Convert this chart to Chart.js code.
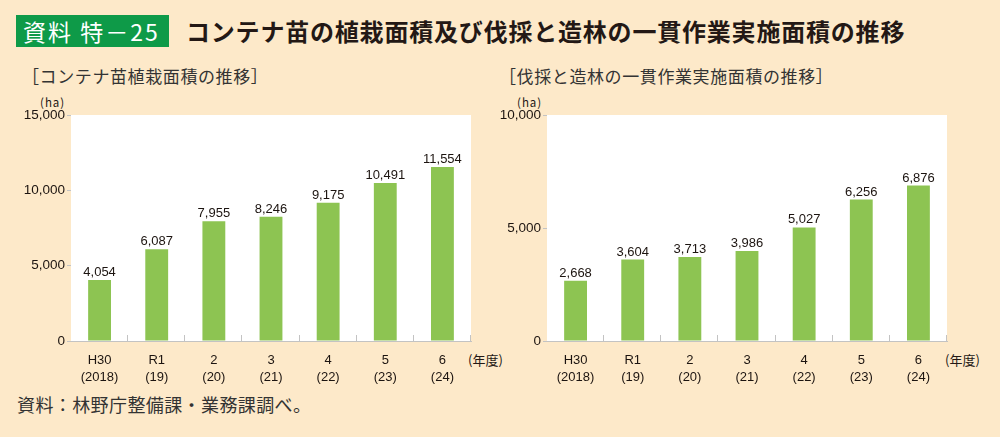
<!DOCTYPE html>
<html>
<head>
<meta charset="utf-8">
<script src="https://cdn.jsdelivr.net/npm/chart.js@4"></script>
<style>
  html, body { margin: 0; padding: 0; }
  body { width: 1000px; height: 437px; background: #fde9c9; position: relative; overflow: hidden;
         font-family: "Noto Sans CJK JP", sans-serif; color: #231815; }
  .abs { position: absolute; white-space: nowrap; }
  #badge { left: 16px; top: 15px; width: 153px; height: 32px; background: #0e9a48; color: #fff;
           font-size: 23px; line-height: 32px; text-indent: 7px; letter-spacing: 2px; }
  #title { left: 186px; top: 14px; font-size: 24px; font-weight: bold; line-height: 34px; letter-spacing: 0.8px; }
  .sub { top: 63px; font-size: 17px; line-height: 26px; color: #333; letter-spacing: 0.6px; }
  .unit { top: 94px; font-size: 11.5px; line-height: 16px; letter-spacing: 1px; }
  .year { top: 351px; font-size: 13px; line-height: 18px; }
  #source { left: 17px; top: 392px; font-size: 18px; line-height: 24px; color: #333; letter-spacing: 0.4px; }
  canvas { position: absolute; top: 100px; }
</style>
</head>
<body>
<div class="abs" id="badge">資料 特－25</div>
<div class="abs" id="title">コンテナ苗の植栽面積及び伐採と造林の一貫作業実施面積の推移</div>
<div class="abs sub" style="left:22px">［コンテナ苗植栽面積の推移］</div>
<div class="abs sub" style="left:499px">［伐採と造林の一貫作業実施面積の推移］</div>
<div class="abs unit" style="left:40px">(ha)</div>
<div class="abs unit" style="left:517px">(ha)</div>
<div class="abs year" style="left:468px">(年度)</div>
<div class="abs year" style="left:945px">(年度)</div>
<div class="abs" id="source">資料：林野庁整備課・業務課調べ。</div>

<canvas id="ContainerChart" width="500" height="290" style="left:0px"></canvas>
<canvas id="IntegratedChart" width="500" height="290" style="left:476px"></canvas>

<script>
//////// data ////////
const categories = [["H30", "(2018)"], ["R1", "(19)"], ["2", "(20)"], ["3", "(21)"], ["4", "(22)"], ["5", "(23)"], ["6", "(24)"]]
const containerArea = [4054, 6087, 7955, 8246, 9175, 10491, 11554]
const integratedArea = [2668, 3604, 3713, 3986, 5027, 6256, 6876]
const containerMax = 15000
const integratedMax = 10000
const tickStep = 5000

const BAR_GREEN = "#8dc452"
const AXIS_GRAY = "#c3c3c3"
const TEXT_DARK = "#1c1410"
const NUM_FONT = "'Liberation Sans', sans-serif"

let fmt = v => Number(v).toLocaleString("en-US")

//////// plugin: white plot area, value labels, inward category ticks ////////
const decorate = {
    id: "decorate",
    beforeDatasetsDraw(chart) {
        const a = chart.chartArea
        const ctx = chart.ctx
        ctx.save()
        ctx.fillStyle = "#ffffff"
        ctx.fillRect(a.left, a.top, a.right - a.left, a.bottom - a.top)
        ctx.restore()
    },
    afterDatasetsDraw(chart) {
        const ctx = chart.ctx
        const meta = chart.getDatasetMeta(0)
        const values = chart.data.datasets[0].data
        ctx.save()
        ctx.font = "13px " + NUM_FONT
        ctx.fillStyle = TEXT_DARK
        ctx.textAlign = "center"
        ctx.textBaseline = "alphabetic"
        meta.data.forEach((bar, i) => {
            ctx.fillText(fmt(values[i]), bar.x, bar.y - 4)
        })
        // small ticks between categories, pointing up from the axis
        const xs = chart.scales.x
        const n = values.length
        const step = (xs.right - xs.left) / n
        ctx.strokeStyle = AXIS_GRAY
        ctx.lineWidth = 1
        ctx.beginPath()
        for (let i = 1; i <= n; i++) {
            const x = Math.round(xs.left + i * step) - 0.5
            ctx.moveTo(x, chart.chartArea.bottom)
            ctx.lineTo(x, chart.chartArea.bottom - 6)
        }
        ctx.stroke()
        ctx.restore()
    }
}

let makeChart = (canvasId, values, maxValue) => {
    let ctx = document.getElementById(canvasId).getContext("2d")
    return new Chart(ctx, {
        type: "bar",
        data: {
            labels: categories,
            datasets: [{
                data: values,
                backgroundColor: BAR_GREEN,
                borderWidth: 0,
                barPercentage: 0.4,
                categoryPercentage: 1
            }]
        },
        options: {
            responsive: false,
            animation: false,
            layout: { padding: { top: 15, right: 29, left: 0, bottom: 0 } },
            plugins: { legend: { display: false }, tooltip: { enabled: false } },
            scales: {
                x: {
                    grid: { display: false },
                    border: { color: AXIS_GRAY, width: 1 },
                    ticks: {
                        color: TEXT_DARK,
                        padding: 3,
                        maxRotation: 0,
                        autoSkip: false,
                        font: { family: NUM_FONT, size: 13, lineHeight: 1.3 }
                    },
                    afterFit: scale => { scale.height = 49 }
                },
                y: {
                    min: 0,
                    max: maxValue,
                    grid: { drawOnChartArea: false, color: AXIS_GRAY, tickLength: 4 },
                    border: { color: AXIS_GRAY, width: 1 },
                    ticks: {
                        stepSize: tickStep,
                        color: TEXT_DARK,
                        padding: 2,
                        font: { family: NUM_FONT, size: 13.5 },
                        callback: v => fmt(v)
                    },
                    afterFit: scale => { scale.width = 71 }
                }
            }
        },
        plugins: [decorate]
    })
}

let containerChart = makeChart("ContainerChart", containerArea, containerMax)
let integratedChart = makeChart("IntegratedChart", integratedArea, integratedMax)
</script>
</body>
</html>
